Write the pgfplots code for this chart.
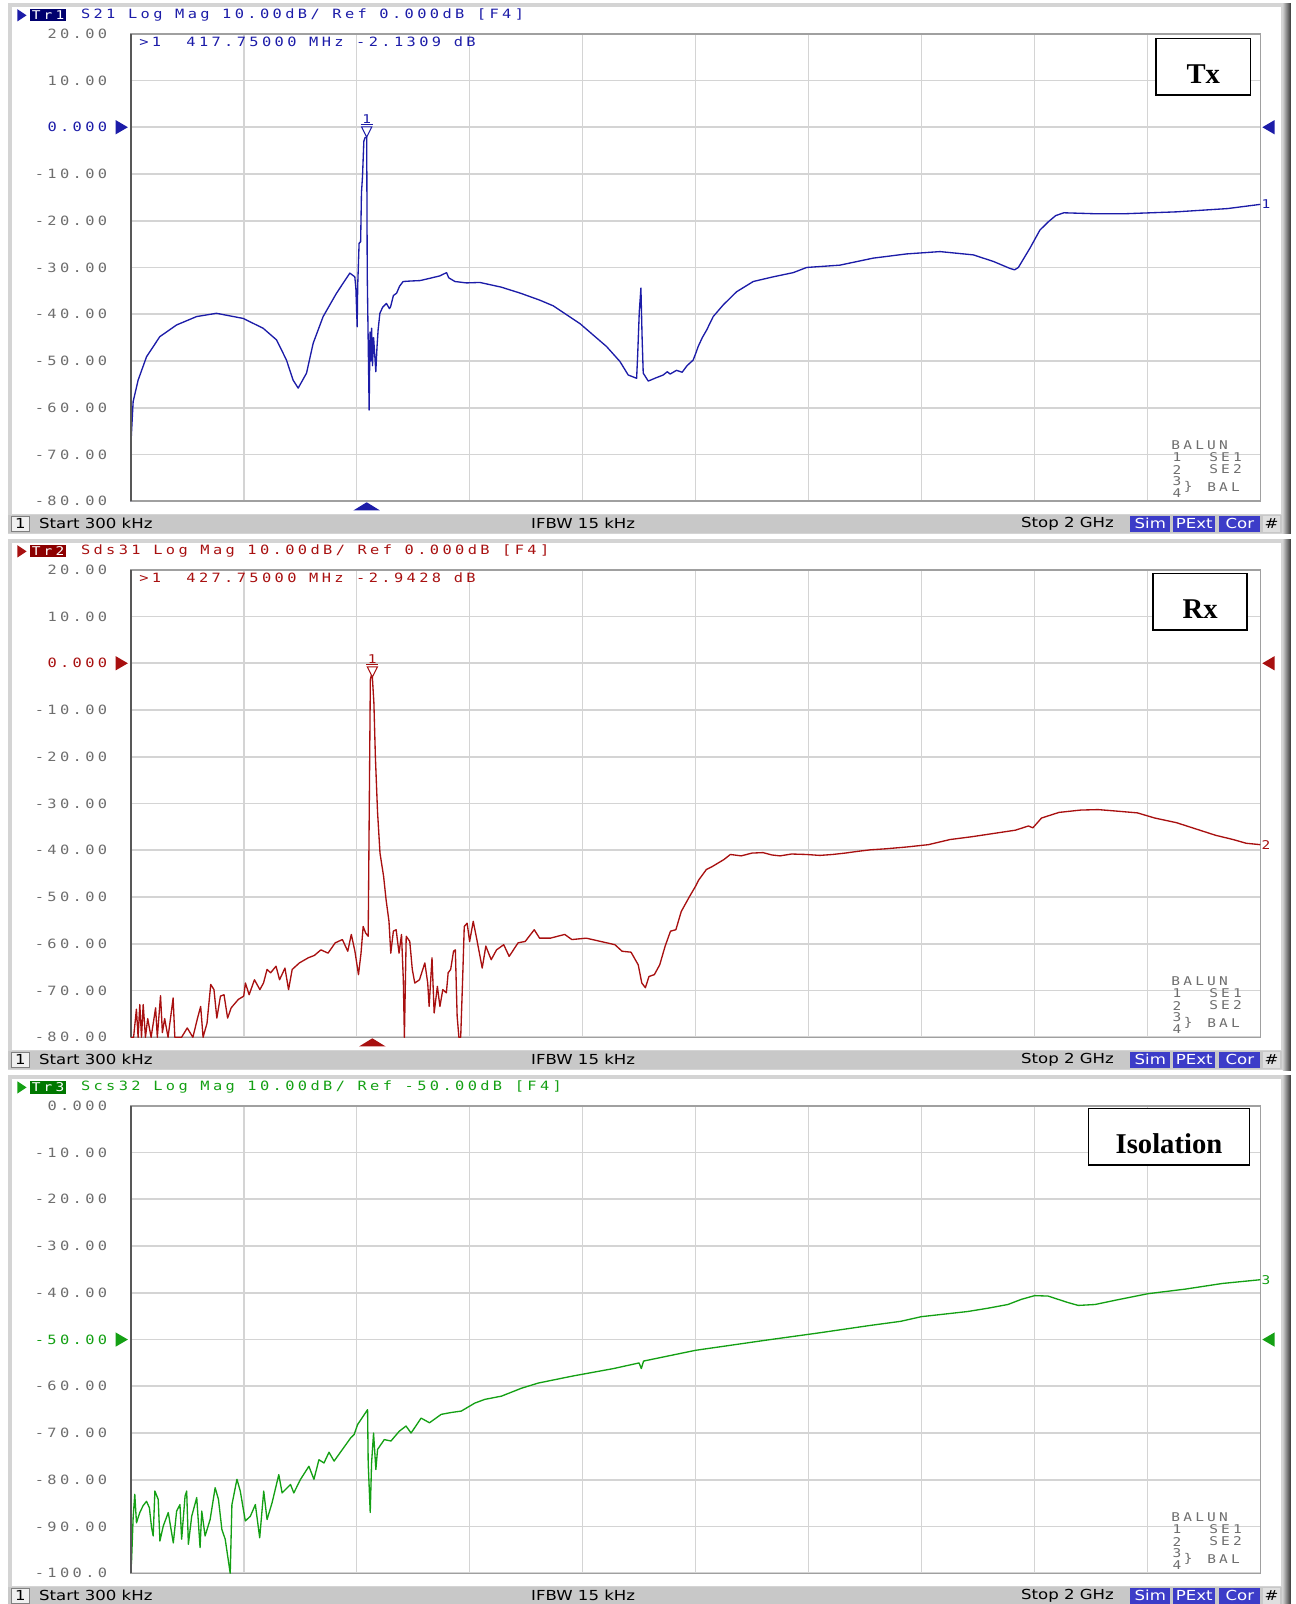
\documentclass[border=0pt]{standalone}
\usepackage{fontspec}
\setmainfont{Liberation Serif}
\newfontfamily\vnamono[LetterSpace=22]{DejaVu Sans Mono}
\newfontfamily\vnasans{DejaVu Sans}
\usepackage{pgfplots}
\pgfplotsset{compat=1.18}

\definecolor{trblue}{RGB}{28,28,168}
\definecolor{trred}{RGB}{168,16,16}
\definecolor{trgreen}{RGB}{20,160,20}
\definecolor{dkblue}{RGB}{0,0,110}
\definecolor{dkred}{RGB}{140,0,0}
\definecolor{dkgreen}{RGB}{0,120,0}
\definecolor{gridgray}{RGB}{212,212,212}
\definecolor{axgray}{RGB}{160,160,160}
\definecolor{tickgray}{RGB}{110,110,110}
\definecolor{framegray}{RGB}{212,212,212}
\definecolor{statgray}{RGB}{200,200,200}
\definecolor{simblue}{RGB}{60,60,200}

\newcommand\vt[1]{{\vnamono\fontsize{12.5}{13}\selectfont\scalebox{1.2}[1]{#1}}}
\newcommand\vts[1]{{\vnamono\fontsize{11.8}{12}\selectfont\scalebox{1.2}[1]{#1}}}
\newcommand\st[1]{{\vnasans\fontsize{13.5}{14}\selectfont\scalebox{1.2}[1]{#1}}}

% window frame, title line and status bar of one trace (local px coords)
\newcommand\vnaframe[5]{%
  \begin{scope}[yshift=-#1pt]
    \fill[framegray] (8,3) rectangle (1262,522);
    \fill[white] (12,7) rectangle (1252,502);
    \shade[left color=gray!40, right color=black!80] (1254,3) rectangle (1262,522);
    \fill[#2] (17,9) -- (26,15) -- (17,21) -- cycle;
    \fill[#3] (29,9) rectangle (65,21);
    \node[white, inner sep=0pt] at (47,15) {\vts{#4}};
    \node[#2, anchor=west, inner sep=0pt] at (79,15) {\vt{#5}};
    \fill[statgray] (8,503) rectangle (1253,521);
    \filldraw[fill=gray!12, draw=gray] (11,505) rectangle (29,519);
    \node[inner sep=0pt] at (20,512) {\st{1}};
    \node[anchor=west, inner sep=0pt] at (38,512) {\st{Start 300 kHz}};
    \node[anchor=west, inner sep=0pt] at (519,512) {\st{IFBW 15 kHz}};
    \node[anchor=west, inner sep=0pt] at (998,512) {\st{Stop 2 GHz}};
    \fill[simblue] (1105,504) rectangle (1144,520);
    \node[white, inner sep=0pt] at (1124.5,512) {\st{Sim}};
    \fill[simblue] (1147,504) rectangle (1188,520);
    \node[white, inner sep=0pt] at (1167.5,512) {\st{PExt}};
    \fill[simblue] (1192,504) rectangle (1232,520);
    \node[white, inner sep=0pt] at (1212,512) {\st{Cor}};
    \fill[gray!25] (1235,504) rectangle (1251,520);
    \node[inner sep=0pt] at (1243,512) {\st{\#}};
  \end{scope}}

% port legend in the lower right corner of a plot
\newcommand\balun{%
  \begin{scope}[every node/.style={tickgray, anchor=west, inner sep=0pt}]
    \node at ([xshift=-87pt,yshift=55pt]rel axis cs:1,0) {\vts{BALUN}};
    \node at ([xshift=-86pt,yshift=43pt]rel axis cs:1,0) {\vts{1}};
    \node at ([xshift=-50pt,yshift=43pt]rel axis cs:1,0) {\vts{SE1}};
    \node at ([xshift=-86pt,yshift=31pt]rel axis cs:1,0) {\vts{2}};
    \node at ([xshift=-50pt,yshift=31pt]rel axis cs:1,0) {\vts{SE2}};
    \node at ([xshift=-86pt,yshift=20pt]rel axis cs:1,0) {\vts{3}};
    \node at ([xshift=-86pt,yshift=8pt]rel axis cs:1,0) {\vts{4}};
    \node at ([xshift=-75pt,yshift=14pt]rel axis cs:1,0) {\vts{\}}};
    \node at ([xshift=-52pt,yshift=14pt]rel axis cs:1,0) {\vts{BAL}};
  \end{scope}}

% boxed trace name: #1 width, #2 xshift, #3 yshift from the top right corner, #4 text
\newcommand\namebox[4]{%
  \node[draw=black, line width=1.5pt, fill=white, minimum width=#1pt, minimum height=55pt,
    anchor=north east, inner sep=0pt] (nb) at ([xshift=#2pt,yshift=#3pt]rel axis cs:1,1) {};
  \node[inner sep=0pt, font=\fontsize{28}{30}\selectfont\bfseries] at ([yshift=-7pt]nb.center) {#4};}

\pgfplotsset{vna/.style={
  scale only axis, width=1104pt, height=457pt, anchor=south west,
  xmin=0.3, xmax=2000, xtick={200,400,...,1800}, xticklabels={},
  xmajorgrids, ymajorgrids, grid style={gridgray, line width=1.6pt},
  major tick length=0pt, axis line style={axgray, line width=1.5pt},
  yticklabel style={inner sep=0pt, xshift=-23pt, text=tickgray},
  clip=false,
  every axis plot/.append style={line width=1.3pt, line join=round},
}}

\begin{document}
\begin{tikzpicture}
\useasboundingbox (0,0) rectangle (1266pt,1568pt);
\fill[white] (0,0) rectangle (1266pt,1568pt);

\begin{scope}[shift={(0pt,1568pt)}, x=1pt, y=-1pt]
  \vnaframe{0}{trblue}{dkblue}{Tr1}{S21 Log Mag 10.00dB/ Ref 0.000dB [F4]}
  \vnaframe{524}{trred}{dkred}{Tr2}{Sds31 Log Mag 10.00dB/ Ref 0.000dB [F4]}
  \vnaframe{1048}{trgreen}{dkgreen}{Tr3}{Scs32 Log Mag 10.00dB/ Ref -50.00dB [F4]}
\end{scope}

% ---------------- Tx ----------------
\begin{axis}[vna, at={(128pt,1078pt)}, ymin=-80, ymax=20, ytick={-80,-70,...,20},
  yticklabels={\vt{-80.00},\vt{-70.00},\vt{-60.00},\vt{-50.00},\vt{-40.00},\vt{-30.00},
    \vt{-20.00},\vt{-10.00},\textcolor{trblue}{\vt{0.000}},\vt{10.00},\vt{20.00}}]
\addplot[trblue] coordinates {
(0.3,-80) (1,-66) (4.2,-58.7) (13,-54.1) (27.9,-49.1) (51.4,-44.8) (81,-42.3)
(116.5,-40.5) (151.8,-39.8) (199.1,-40.9) (234.4,-43.0) (258.2,-45.5) (275.7,-49.8)
(287.5,-54.1) (296.4,-55.8) (311.2,-52.6) (323,-46.2) (340.6,-40.5) (364.3,-35.5)
(387.9,-31.2) (396.7,-32.0) (398.6,-34.5) (400.9,-42.7) (401.8,-34) (404.3,-24.8)
(407,-24.5) (408.5,-14) (410.3,-10.6) (412.7,-3) (414.9,-2.2) (417.75,-2.13)
(418.7,-31.2) (422.1,-60.5) (423.6,-43.8) (425,-50) (426.5,-43) (428,-51) (430,-45)
(433.9,-52.3) (436,-47) (438,-43.3) (441.1,-39.8) (446,-38.5) (452.7,-37.7)
(458,-38.8) (460.1,-38.4) (465,-36) (470.7,-35.5) (476,-34) (482.2,-33.0)
(495,-32.9) (512.3,-32.8) (530,-32.3) (547.3,-31.8) (559.1,-31.1) (563,-32.2)
(573.9,-33.0) (594.4,-33.3) (618.1,-33.2) (655.8,-34.2) (690,-35.5) (724.5,-37.0)
(748,-38.2) (795.3,-42.0) (842.4,-46.9) (866.1,-50.1) (880.8,-53.0) (895.7,-53.7)
(897.6,-48.6) (900.4,-39.5) (903.3,-34.4) (905.4,-45) (907.4,-52.6) (916.3,-54.3)
(930,-53.6) (942.8,-53.0) (950,-52.3) (955,-52.8) (966.3,-52.0) (976.4,-52.4)
(985,-51) (995.8,-49.8) (1000,-48.5) (1004.7,-46.9) (1012,-45) (1019.6,-43.4)
(1031.3,-40.5) (1049.1,-38.0) (1072.6,-35.2) (1102.2,-33.0) (1137.5,-32.0)
(1173,-31.1) (1196.7,-30.0) (1255.6,-29.5) (1314.6,-28.0) (1373.7,-27.1)
(1432.8,-26.6) (1491.7,-27.3) (1527.2,-28.7) (1556.7,-30.2) (1565,-30.5)
(1571.6,-30.0) (1592,-25.9) (1609.8,-22.0) (1625,-20.2) (1637.7,-18.9)
(1652.2,-18.3) (1706.5,-18.5) (1760.9,-18.5) (1851.4,-18.1) (1942,-17.4) (2000,-16.5)
};
\draw[tickgray!80!black, line width=2pt] (rel axis cs:0,0) -- (rel axis cs:0,1);
\draw[trblue, line width=1pt, fill=white] (axis cs:417.75,-2.13) -- ++(-5pt,10pt) -- ++(10pt,0pt) -- cycle;
\draw[trblue, line width=1pt] (axis cs:417.75,-2.13) ++(-6pt,12pt) -- ++(12pt,0pt);
\node[trblue, anchor=south, inner sep=0pt] at ([yshift=13pt]axis cs:417.75,-2.13) {\vts{1}};
\fill[trblue] ([yshift=-1pt]axis cs:417.75,-80) -- ++(-13pt,-8pt) -- ++(26pt,0pt) -- cycle;
\fill[trblue] ([xshift=-3pt]axis cs:0.3,0) -- ++(-12pt,7pt) -- ++(0pt,-14pt) -- cycle;
\fill[trblue] ([xshift=2pt]axis cs:2000,0) -- ++(12pt,7pt) -- ++(0pt,-14pt) -- cycle;
\node[trblue, anchor=west, inner sep=1pt] at (axis cs:2000,-16.5) {\vts{1}};
\node[trblue, anchor=west, inner sep=0pt] at ([xshift=8pt,yshift=-8pt]rel axis cs:0,1)
  {\vt{>1\ \ 417.75000 MHz -2.1309 dB}};
\namebox{92}{-9}{-4}{Tx}
\balun
\end{axis}

% ---------------- Rx ----------------
\begin{axis}[vna, at={(128pt,554pt)}, ymin=-80, ymax=20, ytick={-80,-70,...,20},
  yticklabels={\vt{-80.00},\vt{-70.00},\vt{-60.00},\vt{-50.00},\vt{-40.00},\vt{-30.00},
    \vt{-20.00},\vt{-10.00},\textcolor{trred}{\vt{0.000}},\vt{10.00},\vt{20.00}}]
\addplot[trred] coordinates {
(0.3,-80) (5,-80) (10,-74) (13,-80) (16,-73) (19,-80) (22,-73) (26,-80) (30,-76)
(36,-80) (44,-73.7) (47,-80) (52.7,-71.1) (56,-79) (60,-76) (66,-80) (75,-71.6)
(78,-80) (90,-80) (100,-78) (110,-80) (118,-76) (123.8,-73.4) (128,-80) (135,-77)
(141.6,-68.7) (147.3,-69.8) (152.4,-75.9) (158.8,-71.2) (165.1,-70.9) (171.5,-75.9)
(177.8,-73.7) (190.5,-71.9) (200,-71.2) (203,-68.4) (209.6,-70.9) (219,-67.7)
(228.6,-69.8) (235,-68.4) (241.3,-65.5) (247.7,-66.2) (257.2,-64.8) (263.5,-67.7)
(273,-65.2) (279.4,-69.8) (285.8,-65.5) (298.5,-64.1) (314.3,-63.0) (325,-62.5)
(336.6,-61.3) (349.3,-62) (362,-59.8) (374.7,-59.1) (384.2,-61.6) (390.5,-58)
(396.9,-61.6) (403.2,-66.6) (407.7,-62) (411.5,-56.3) (415.9,-57.7) (420.4,-58.4)
(422.3,-31) (424.2,-3.5) (426,-2.6) (427.75,-2.94) (430.5,-8.5) (433.1,-19.9)
(436.9,-31.7) (441.3,-40.6) (447.7,-45.6) (452.1,-50.6) (457.2,-55.2) (460.4,-62)
(465,-57.3) (469.9,-57) (475,-62) (479.4,-58) (482.6,-67.7) (484.5,-80) (487.7,-58.4)
(494,-59.5) (498.5,-65.5) (502.9,-68.4) (511.2,-67.7) (520.7,-64.1) (525.8,-68.4)
(528.3,-73.4) (533.4,-63) (537.2,-74.8) (542.9,-69.1) (547.4,-73.4) (552.5,-69.8)
(558.8,-70.5) (562,-66.2) (566.4,-65.5) (571.5,-61.6) (574.7,-61.3) (577.9,-75.5)
(581,-80) (584.2,-80) (587.4,-68.4) (590.5,-56.3) (595.6,-55.6) (600,-59.5)
(606.4,-55.2) (612.8,-59.1) (622.3,-65.2) (628.7,-60.5) (638.2,-63.4) (647.7,-61.3)
(660.4,-60.2) (670,-62.7) (685.8,-59.8) (698.5,-59.5) (714.4,-57) (723.9,-58.8)
(743,-58.8) (768.4,-58) (781,-59.1) (806.5,-58.8) (831.9,-59.5) (857.3,-60.2)
(870,-61.6) (885.8,-61.8) (898.5,-64.5) (904.9,-68.4) (911.2,-69.4) (917.6,-67)
(927.1,-66.6) (936.6,-64.5) (946.2,-60.5) (955.7,-57.3) (965.2,-57) (974.7,-53.1)
(988.4,-50.1) (1000,-47.7) (1005.4,-46.4) (1019.3,-44.1) (1030.8,-43.4) (1050.1,-42)
(1061.7,-40.9) (1080.9,-41.2) (1100,-40.6) (1119.5,-40.5) (1135,-41) (1149.7,-41.2)
(1170,-40.8) (1196.5,-40.9) (1220,-41.1) (1242.8,-40.9) (1265,-40.6) (1289,-40.2)
(1310,-39.9) (1335.3,-39.7) (1373.8,-39.3) (1412.3,-38.8) (1450.9,-37.7)
(1489.4,-37.1) (1528,-36.4) (1566.5,-35.7) (1589.6,-34.8) (1597.3,-35.2)
(1612.7,-33.1) (1643.6,-31.9) (1682.1,-31.4) (1712.9,-31.3) (1743.7,-31.6)
(1782.3,-32) (1813.1,-33.1) (1851.6,-34.1) (1890.2,-35.6) (1921,-36.8)
(1951.8,-37.7) (1974.9,-38.5) (2000,-38.8)
};
\draw[tickgray!80!black, line width=2pt] (rel axis cs:0,0) -- (rel axis cs:0,1);
\draw[trred, line width=1pt, fill=white] (axis cs:427.75,-2.94) -- ++(-5pt,10pt) -- ++(10pt,0pt) -- cycle;
\draw[trred, line width=1pt] (axis cs:427.75,-2.94) ++(-6pt,12pt) -- ++(12pt,0pt);
\node[trred, anchor=south, inner sep=0pt] at ([yshift=13pt]axis cs:427.75,-2.94) {\vts{1}};
\fill[trred] ([yshift=-1pt]axis cs:427.75,-80) -- ++(-13pt,-8pt) -- ++(26pt,0pt) -- cycle;
\fill[trred] ([xshift=-3pt]axis cs:0.3,0) -- ++(-12pt,7pt) -- ++(0pt,-14pt) -- cycle;
\fill[trred] ([xshift=2pt]axis cs:2000,0) -- ++(12pt,7pt) -- ++(0pt,-14pt) -- cycle;
\node[trred, anchor=west, inner sep=1pt] at (axis cs:2000,-38.8) {\vts{2}};
\node[trred, anchor=west, inner sep=0pt] at ([xshift=8pt,yshift=-8pt]rel axis cs:0,1)
  {\vt{>1\ \ 427.75000 MHz -2.9428 dB}};
\namebox{92}{-12}{-3}{Rx}
\balun
\end{axis}

% ---------------- Isolation ----------------
\begin{axis}[vna, at={(128pt,30pt)}, ymin=-100, ymax=0, ytick={-100,-90,...,0},
  yticklabels={\vt{-100.0},\vt{-90.00},\vt{-80.00},\vt{-70.00},\vt{-60.00},
    \textcolor{trgreen}{\vt{-50.00}},\vt{-40.00},\vt{-30.00},\vt{-20.00},\vt{-10.00},\vt{0.000}}]
\addplot[trgreen] coordinates {
(0.3,-77.8) (1.2,-98) (4.2,-88.1) (7.1,-83.1) (10.1,-89.2) (16,-87) (22,-85.5)
(27.9,-84.6) (33,-86) (36.8,-90.2) (39.7,-92) (42.7,-82.4) (48.6,-84.2) (51.6,-93.1)
(57.5,-89.9) (66.4,-87) (72.3,-91.3) (75.3,-93.5) (81.2,-86.7) (87.1,-85.3)
(90.1,-92.7) (96.1,-83.5) (99,-82.4) (102,-93.8) (107.9,-87.8) (116.8,-83.8)
(122.7,-94.5) (125.7,-86.7) (131.6,-92) (140.5,-88.5) (149.4,-81.7) (155.3,-84.2)
(161.3,-90.6) (167.2,-92.7) (176.1,-100) (179.1,-85.3) (188,-79.9) (193.9,-82.4)
(202.8,-88.8) (211.7,-87.8) (220.6,-85.3) (228.3,-92.4) (235.4,-82.4) (241.3,-88.5)
(250.2,-84.9) (262.1,-78.9) (268,-82.8) (282.8,-81) (288.7,-82.8) (300.6,-79.9)
(315.4,-77.1) (324.3,-79.9) (333.2,-75.7) (342.1,-76.4) (351,-74.1) (360,-76)
(374.8,-73.5) (389.6,-71) (395.6,-70.3) (401.5,-68.2) (419.3,-65) (420.4,-76.4)
(424,-87) (426.4,-76.4) (429.9,-70) (434,-77.8) (437,-73.5) (448.9,-71.4)
(460.7,-71.7) (475.5,-69.6) (487.4,-68.5) (496.3,-70) (514.1,-66.8) (528.9,-67.8)
(549.7,-66) (567.5,-65.6) (585.2,-65.3) (609,-63.6) (626.8,-62.8) (656.5,-62.1)
(692,-60.4) (721.7,-59.3) (782.6,-57.8) (855,-56.2) (900,-55.0) (904,-56.2)
(908,-54.6) (1000,-52.3) (1126.8,-50.1) (1217,-48.6) (1308,-47) (1363.2,-46.1)
(1400,-45.1) (1481.9,-44) (1517.5,-43.3) (1553.1,-42.5) (1576.9,-41.4)
(1600.6,-40.6) (1624.3,-40.7) (1642.1,-41.4) (1660,-42.1) (1677.7,-42.7)
(1707.4,-42.5) (1743,-41.6) (1800.6,-40.2) (1867.7,-39.2) (1932.9,-38) (2000,-37.2)
};
\draw[tickgray!80!black, line width=2pt] (rel axis cs:0,0) -- (rel axis cs:0,1);
\fill[trgreen] ([xshift=-3pt]axis cs:0.3,-50) -- ++(-12pt,7pt) -- ++(0pt,-14pt) -- cycle;
\fill[trgreen] ([xshift=2pt]axis cs:2000,-50) -- ++(12pt,7pt) -- ++(0pt,-14pt) -- cycle;
\node[trgreen, anchor=west, inner sep=1pt] at (axis cs:2000,-37.2) {\vts{3}};
\namebox{157}{-10}{-2}{Isolation}
\balun
\end{axis}
\end{tikzpicture}
\end{document}
